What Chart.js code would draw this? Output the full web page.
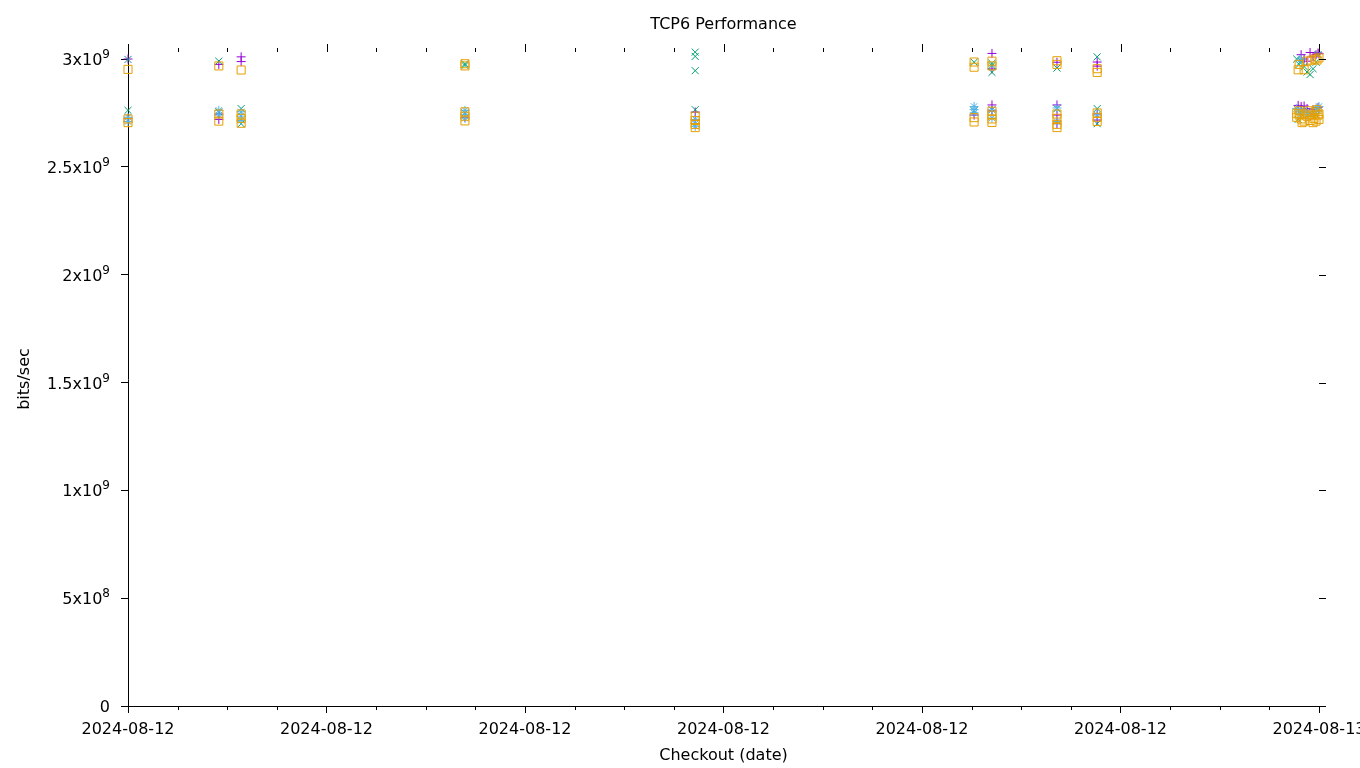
<!DOCTYPE html>
<html>
<head>
<meta charset="utf-8">
<title>TCP6 Performance</title>
<script src="https://cdn.jsdelivr.net/npm/chart.js@4.4.1/dist/chart.umd.min.js"></script>
<style>
    html, body { margin: 0; padding: 0; background: #fff; }
    #wrap { width: 1360px; height: 768px; position: relative; }
</style>
</head>
<body>
<div id="wrap"><canvas id="chart"></canvas></div>
<script>
/* ---------- DATA (hours after 2024-08-12 00:00, bits/sec) ---------- */
const xTickHours = [0, 4, 8, 12, 16, 20, 24];
const xTickLabels = ["2024-08-12", "2024-08-12", "2024-08-12", "2024-08-12", "2024-08-12", "2024-08-12", "2024-08-13"];
const yTickValues = [0, 5e8, 1e9, 1.5e9, 2e9, 2.5e9, 3e9];
const yTickMantissas = ["0", "5x10", "1x10", "1.5x10", "2x10", "2.5x10", "3x10"];
const yTickPowers = ["", "8", "9", "9", "9", "9", "9"];

const purpleRuns = [
    [0, 3.000e9], [0, 2.725e9],
    [1.83, 2.975e9], [1.83, 2.720e9], [1.83, 2.745e9],
    [2.28, 3.010e9], [2.28, 2.988e9],
    [6.79, 2.730e9],
    [11.43, 2.754e9], [11.43, 2.717e9], [11.43, 2.700e9],
    [17.05, 2.740e9],
    [17.41, 3.026e9], [17.41, 2.954e9], [17.41, 2.787e9], [17.41, 2.760e9],
    [18.72, 2.985e9], [18.72, 2.787e9], [18.72, 2.740e9], [18.72, 2.700e9],
    [19.53, 2.986e9], [19.53, 2.967e9], [19.53, 2.717e9], [19.53, 2.745e9],
    [23.58, 2.785e9], [23.64, 3.020e9], [23.64, 2.780e9], [23.70, 3.000e9], [23.70, 2.782e9],
    [23.76, 2.990e9], [23.82, 3.030e9], [23.88, 3.010e9], [23.94, 3.020e9], [23.98, 3.028e9],
    [24.0, 3.025e9], [23.76, 2.770e9], [23.88, 2.765e9], [23.98, 2.775e9]
];

const greenRuns = [
    [0, 2.998e9], [0, 2.762e9],
    [1.83, 2.990e9], [1.83, 2.755e9],
    [2.28, 2.770e9], [2.28, 2.700e9],
    [6.79, 2.978e9], [6.79, 2.970e9], [6.79, 2.750e9],
    [11.43, 3.032e9], [11.43, 3.012e9], [11.43, 2.946e9], [11.43, 2.765e9],
    [17.05, 2.985e9], [17.05, 2.760e9],
    [17.41, 2.980e9], [17.41, 2.970e9], [17.41, 2.938e9], [17.41, 2.765e9],
    [18.72, 2.958e9], [18.72, 2.770e9],
    [19.53, 3.010e9], [19.53, 2.770e9], [19.53, 2.700e9],
    [23.55, 3.000e9], [23.58, 2.720e9], [23.60, 2.975e9], [23.64, 2.990e9], [23.70, 2.965e9],
    [23.76, 2.940e9], [23.82, 2.928e9], [23.88, 2.955e9], [23.94, 2.985e9], [23.98, 3.020e9],
    [23.70, 2.760e9], [23.82, 2.750e9], [23.94, 2.740e9]
];

const blueRuns = [
    [0, 2.730e9], [0, 2.710e9],
    [1.83, 2.762e9], [1.83, 2.740e9],
    [2.28, 2.755e9], [2.28, 2.735e9], [2.28, 2.715e9],
    [6.79, 2.762e9], [6.79, 2.742e9], [6.79, 2.725e9],
    [11.43, 2.720e9], [11.43, 2.700e9], [11.43, 2.688e9],
    [17.05, 2.780e9], [17.05, 2.765e9], [17.05, 2.750e9],
    [17.41, 2.764e9], [17.41, 2.726e9],
    [18.72, 2.773e9], [18.72, 2.710e9],
    [19.53, 2.740e9],
    [23.55, 2.770e9], [23.60, 2.755e9], [23.64, 2.745e9], [23.70, 2.760e9], [23.76, 2.735e9],
    [23.82, 2.750e9], [23.88, 2.740e9], [23.94, 2.770e9], [23.98, 2.760e9], [24.0, 2.780e9],
    [23.64, 3.000e9]
];

const orangeRuns = [
    [0, 2.952e9], [0, 2.722e9], [0, 2.705e9],
    [1.83, 2.968e9], [1.83, 2.745e9], [1.83, 2.712e9],
    [2.28, 2.949e9], [2.28, 2.745e9], [2.28, 2.725e9], [2.28, 2.702e9],
    [6.79, 2.978e9], [6.79, 2.968e9], [6.79, 2.755e9], [6.79, 2.735e9], [6.79, 2.713e9],
    [11.43, 2.735e9], [11.43, 2.715e9], [11.43, 2.697e9], [11.43, 2.682e9],
    [17.05, 2.986e9], [17.05, 2.962e9], [17.05, 2.728e9], [17.05, 2.708e9],
    [17.41, 2.990e9], [17.41, 2.968e9], [17.41, 2.758e9], [17.41, 2.740e9], [17.41, 2.722e9], [17.41, 2.706e9],
    [18.72, 2.992e9], [18.72, 2.975e9], [18.72, 2.745e9], [18.72, 2.725e9], [18.72, 2.697e9], [18.72, 2.682e9],
    [19.53, 2.955e9], [19.53, 2.938e9], [19.53, 2.750e9], [19.53, 2.730e9], [19.53, 2.710e9],
    [23.58, 2.950e9], [23.60, 2.975e9], [23.70, 2.950e9], [23.76, 2.990e9], [23.85, 2.995e9],
    [23.92, 3.000e9], [23.96, 2.995e9], [24.0, 3.005e9],
    [23.55, 2.748e9], [23.55, 2.730e9], [23.60, 2.760e9], [23.60, 2.740e9], [23.64, 2.722e9],
    [23.70, 2.745e9], [23.70, 2.712e9], [23.76, 2.735e9], [23.80, 2.760e9], [23.82, 2.715e9],
    [23.86, 2.740e9], [23.90, 2.725e9], [23.92, 2.755e9], [23.94, 2.712e9], [23.98, 2.740e9],
    [24.0, 2.720e9], [24.0, 2.745e9], [23.66, 2.705e9], [23.88, 2.705e9], [23.96, 2.765e9]
];

const Y_MAX = 3.0325e9;
const FONT = "'DejaVu Sans', sans-serif";

Chart.defaults.font.family = FONT;
Chart.defaults.font.size = 16;
Chart.defaults.color = "#000";

/* ---------- MIRROR + MINOR TICKS, Y LABELS WITH EXPONENT (gnuplot style) ---------- */
const gnuplotAxes = {
    id: "gnuplotAxes",
    afterDraw(chart) {
        const { ctx, chartArea: a } = chart;
        const x = chart.scales.x;
        const y = chart.scales.y;
        ctx.save();
        ctx.strokeStyle = "#000";
        ctx.lineWidth = 1;
        ctx.beginPath();
        for (let h = 0; h <= 24; h++) {
            const px = Math.round(x.getPixelForValue(h)) + 0.5;
            const major = h % 4 === 0;
            ctx.moveTo(px, a.top);
            ctx.lineTo(px, a.top - (major ? 8 : 4));
            if (!major) {
                ctx.moveTo(px, a.bottom);
                ctx.lineTo(px, a.bottom + 4);
            }
        }
        yTickValues.forEach(v => {
            const py = Math.round(y.getPixelForValue(v)) + 0.5;
            ctx.moveTo(a.right, py);
            ctx.lineTo(a.right + 7, py);
        });
        ctx.stroke();

        // y tick labels: mantissa + raised exponent
        ctx.fillStyle = "#000";
        ctx.textBaseline = "alphabetic";
        ctx.textAlign = "right";
        const right = 110;
        yTickValues.forEach((v, i) => {
            const py = y.getPixelForValue(v);
            const pow = yTickPowers[i];
            ctx.font = "12px " + FONT;
            const pw = pow ? ctx.measureText(pow).width : 0;
            if (pow) ctx.fillText(pow, right, py - 1);
            ctx.font = "16px " + FONT;
            ctx.fillText(yTickMantissas[i], right - pw, py + 6);
        });
        ctx.restore();
    }
};

function toPoints(runs) {
    return runs.map(r => ({ x: r[0], y: r[1] }));
}

function series(label, runs, color, style, radius) {
    return {
        label: label,
        data: toPoints(runs),
        pointStyle: style,
        pointRadius: radius,
        pointHoverRadius: radius,
        borderColor: color,
        backgroundColor: "rgba(0,0,0,0)",
        pointBorderWidth: 1,
        showLine: false,
        clip: false
    };
}

/* ---------- CHART ---------- */
new Chart(document.getElementById("chart"), {
    type: "scatter",
    data: {
        // orange first so it's painted on top (chart.js draws dataset 0 last)
        datasets: [
            series("orange", orangeRuns, "#e69f00", "rect", 5.7),
            series("blue", blueRuns, "#56b4e9", "star", 4.5),
            series("green", greenRuns, "#009e73", "crossRot", 5),
            series("purple", purpleRuns, "#9400d3", "cross", 4.5)
        ]
    },
    options: {
        responsive: true,
        maintainAspectRatio: false,
        animation: false,
        layout: { padding: { top: 0, right: 41, bottom: 0, left: 0 } },
        plugins: {
            legend: { display: false },
            tooltip: { enabled: false },
            title: {
                display: true,
                text: "TCP6 Performance",
                fullSize: false,
                color: "#000",
                font: { size: 16, weight: "normal" },
                padding: { top: 15, bottom: 17.8 }
            }
        },
        scales: {
            x: {
                type: "linear",
                position: "bottom",
                min: 0,
                max: 24,
                afterBuildTicks: s => { s.ticks = xTickHours.map(v => ({ value: v })); },
                afterFit: s => { s.height = 62; s.paddingLeft = 0; s.paddingRight = 0; },
                ticks: {
                    autoSkip: false,
                    maxRotation: 0,
                    padding: 7,
                    callback: v => xTickLabels[xTickHours.indexOf(v)]
                },
                grid: { drawOnChartArea: false, tickLength: 7, tickColor: "#000", tickWidth: 1 },
                border: { color: "#000", width: 1 },
                title: { display: true, text: "Checkout (date)", padding: { top: 0, bottom: 3 } }
            },
            y: {
                type: "linear",
                min: 0,
                max: Y_MAX,
                afterBuildTicks: s => { s.ticks = yTickValues.map(v => ({ value: v })); },
                afterFit: s => { s.width = 128; s.paddingTop = 0; s.paddingBottom = 0; },
                ticks: {
                    padding: 11,
                    color: "rgba(0,0,0,0)",
                    callback: (v, i) => yTickMantissas[i] + yTickPowers[i]
                },
                grid: { drawOnChartArea: false, tickLength: 7, tickColor: "#000", tickWidth: 1 },
                border: { color: "#000", width: 1 },
                title: { display: true, text: "bits/sec", padding: { top: 15, bottom: 0 } }
            }
        }
    },
    plugins: [gnuplotAxes]
});
</script>
</body>
</html>
